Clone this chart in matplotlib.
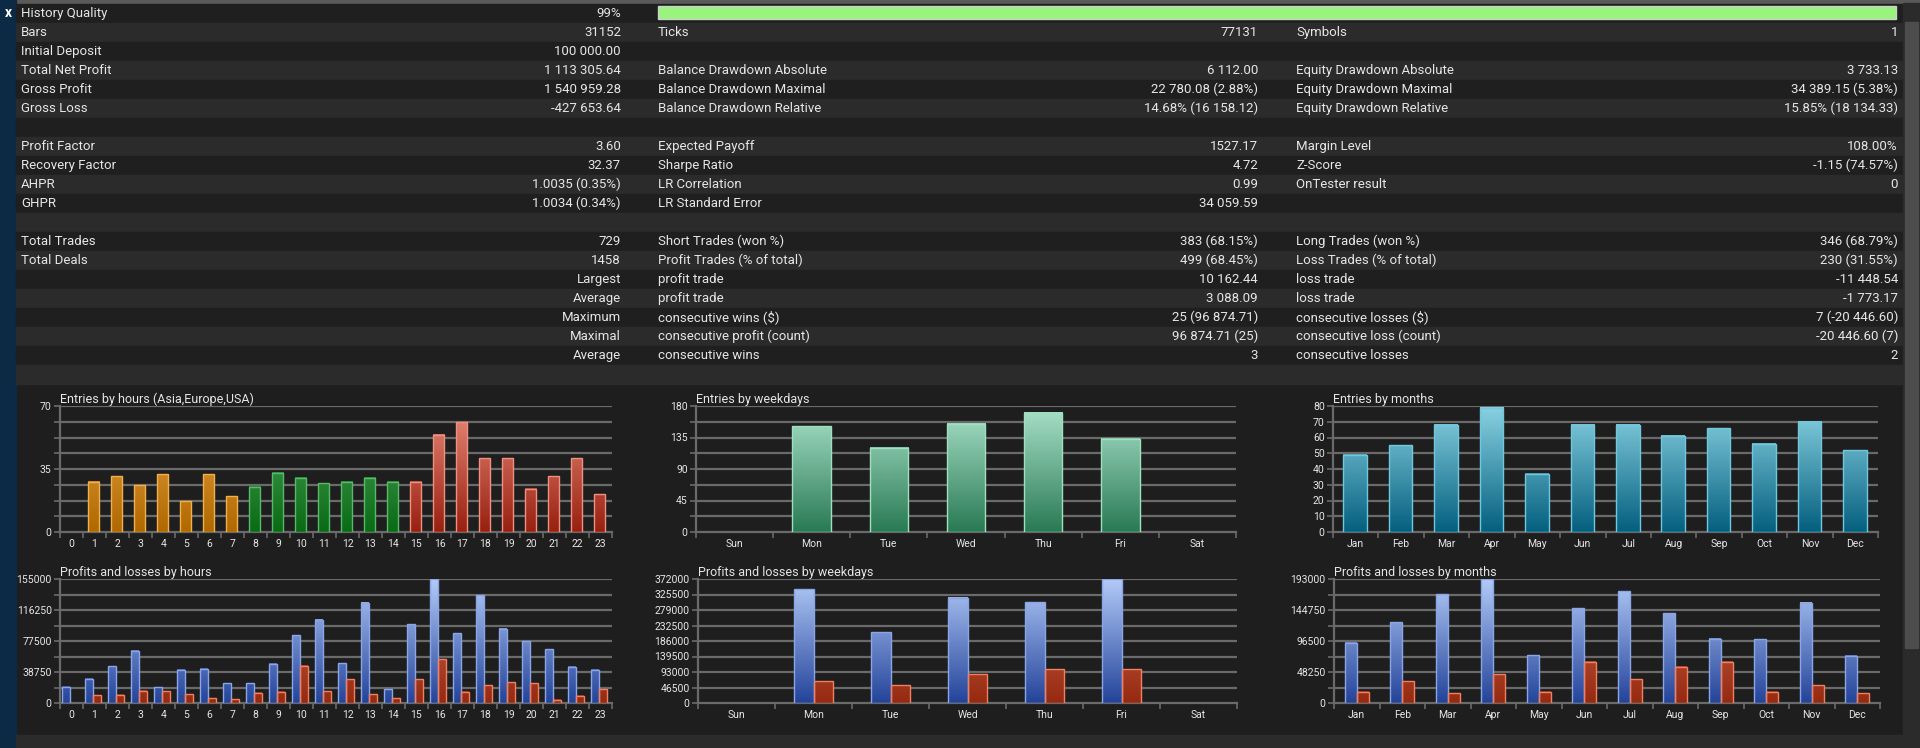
import numpy as np
import matplotlib
matplotlib.use("Agg")
import matplotlib.pyplot as plt
from matplotlib.patches import Rectangle
from matplotlib.colors import LinearSegmentedColormap

W, H = 1920, 748
plt.rcParams['font.family'] = ['Liberation Sans Narrow', 'Roboto', 'DejaVu Sans']

# ---------------- data ----------------
hours = [str(i) for i in range(24)]
hour_entries = [0, 28, 31, 26, 32, 17, 32, 20, 25, 33, 30, 27, 28, 30, 28, 28, 54, 61, 41, 41, 24, 31, 41, 21]
hour_profits = [20400, 30600, 46100, 65300, 19600, 41600, 42800, 24500, 24500, 49000, 84500, 104000,
                49800, 125300, 17500, 98700, 155000, 86900, 135000, 93000, 77100, 67300, 45300, 41600]
hour_losses = [0, 9400, 10200, 15500, 14700, 11000, 6100, 4900, 13100, 13900, 46500, 14700,
               29400, 11000, 5700, 29800, 54700, 13900, 22000, 25700, 24500, 4100, 9000, 17500]

weekdays = ["Sun", "Mon", "Tue", "Wed", "Thu", "Fri", "Sat"]
weekday_entries = [0, 151, 120, 155, 170, 133, 0]
weekday_profits = [0, 340700, 212400, 315200, 302500, 372000, 0]
weekday_losses = [0, 65600, 52900, 86100, 101800, 101800, 0]

months = ["Jan", "Feb", "Mar", "Apr", "May", "Jun", "Jul", "Aug", "Sep", "Oct", "Nov", "Dec"]
month_entries = [49, 55, 68, 79, 37, 68, 68, 61, 66, 56, 70, 52]
month_profits = [93500, 125500, 169200, 193000, 74700, 147300, 174300, 139700, 100100, 99100, 156000, 73200]
month_losses = [17300, 33500, 15200, 44700, 17300, 64000, 36600, 56400, 64500, 17800, 27400, 15200]

table_rows = [
    ["History Quality", "99%", None, None, None, None],
    ["Bars", "31152", "Ticks", "77131", "Symbols", "1"],
    ["Initial Deposit", "100 000.00", "", "", "", ""],
    ["Total Net Profit", "1 113 305.64", "Balance Drawdown Absolute", "6 112.00", "Equity Drawdown Absolute", "3 733.13"],
    ["Gross Profit", "1 540 959.28", "Balance Drawdown Maximal", "22 780.08 (2.88%)", "Equity Drawdown Maximal", "34 389.15 (5.38%)"],
    ["Gross Loss", "-427 653.64", "Balance Drawdown Relative", "14.68% (16 158.12)", "Equity Drawdown Relative", "15.85% (18 134.33)"],
    ["", "", "", "", "", ""],
    ["Profit Factor", "3.60", "Expected Payoff", "1527.17", "Margin Level", "108.00%"],
    ["Recovery Factor", "32.37", "Sharpe Ratio", "4.72", "Z-Score", "-1.15 (74.57%)"],
    ["AHPR", "1.0035 (0.35%)", "LR Correlation", "0.99", "OnTester result", "0"],
    ["GHPR", "1.0034 (0.34%)", "LR Standard Error", "34 059.59", "", ""],
    ["", "", "", "", "", ""],
    ["Total Trades", "729", "Short Trades (won %)", "383 (68.15%)", "Long Trades (won %)", "346 (68.79%)"],
    ["Total Deals", "1458", "Profit Trades (% of total)", "499 (68.45%)", "Loss Trades (% of total)", "230 (31.55%)"],
    ["", "Largest", "profit trade", "10 162.44", "loss trade", "-11 448.54"],
    ["", "Average", "profit trade", "3 088.09", "loss trade", "-1 773.17"],
    ["", "Maximum", "consecutive wins ($)", "25 (96 874.71)", "consecutive losses ($)", "7 (-20 446.60)"],
    ["", "Maximal", "consecutive profit (count)", "96 874.71 (25)", "consecutive loss (count)", "-20 446.60 (7)"],
    ["", "Average", "consecutive wins", "3", "consecutive losses", "2"],
    ["", "", "", "", "", ""],
]

BG = "#1e1e1e"
TXT = "#e6e6e6"
GRID = "#6a6a6a"

fig = plt.figure(figsize=(W / 100, H / 100), dpi=100, facecolor=BG)

# ---------------- table ----------------
tb = fig.add_axes([0, 0, 1, 1])
tb.set_xlim(0, W)
tb.set_ylim(H, 0)
tb.axis("off")
tb.add_patch(Rectangle((0, 0), W, H, color=BG, zorder=0))
tb.add_patch(Rectangle((0, 0), W, 3, color="#5a5a5a", zorder=1))
tb.add_patch(Rectangle((0, 0), 16, H, color="#0c2a45", zorder=1))
tb.text(8, 13, "x", color="white", fontsize=10, ha="center", va="center", fontweight="bold")
RH = 19.0
y0 = 3.5
cols_x = [21, 621, 658, 1258, 1296, 1898]
for r, row in enumerate(table_rows):
    top = y0 + r * RH
    tb.add_patch(Rectangle((16, top), 1887, RH, color="#1f1f1f" if r % 2 == 0 else "#2b2b2b", zorder=1))
    cy = top + RH / 2
    for c, s in enumerate(row):
        if s is None or s == "":
            continue
        ha = "left" if c in (0, 2, 4) else "right"
        tb.text(cols_x[c], cy, s, color=TXT, fontsize=9.5, ha=ha, va="center", zorder=3)
tb.add_patch(Rectangle((658, 6), 1238, 13, facecolor="#98f47c", edgecolor="#cfcfcf", lw=1, zorder=2))
# scrollbar
tb.add_patch(Rectangle((1903, 3), 17, H, color="#2b2b2b", zorder=2))
tb.add_patch(Rectangle((1905, 22), 13, 626, color="#4d4d4d", zorder=3))
tb.add_patch(Rectangle((16, 735), 1887, 13, color="#2b2b2b", zorder=1))


def cmap(lo, hi):
    return LinearSegmentedColormap.from_list("g", [lo, hi])


C_OR = cmap("#b06800", "#eaa848")
C_GR = cmap("#0a6a15", "#52aa62")
C_RD = cmap("#982010", "#e88a7a")
C_WG = cmap("#2a7a55", "#aae2ca")
C_TL = cmap("#04607f", "#8ad2e2")
C_BL = cmap("#24449a", "#b2caf8")
C_LS = cmap("#952a10", "#d66e56")


def gbar(ax, x, w, h, cm, ymax, edge):
    if h <= 0:
        return
    grad = np.linspace(0, h / ymax, 64).reshape(-1, 1)
    ax.imshow(grad, extent=(x, x + w, 0, h), origin="lower", cmap=cm, vmin=0, vmax=1,
              aspect="auto", zorder=3, interpolation="bilinear")
    ax.add_patch(Rectangle((x, 0), w, h, fill=False, ec=edge, lw=1, zorder=4))


def chart(l, t, r, b, title, cats, ymax, nstep, labstep, fmt=str):
    ax = fig.add_axes([l / W, 1 - b / H, (r - l) / W, (b - t) / H])
    ax.set_facecolor(BG)
    n = len(cats)
    for k in range(1, nstep + 1):
        ax.axhline(ymax * k / nstep, color=GRID, lw=1.6, zorder=1)
    yt = [ymax * k / nstep for k in range(nstep + 1)]
    ax.set_yticks(yt)
    ax.set_yticklabels([fmt(round(v)) if k % labstep == 0 else "" for k, v in enumerate(yt)])
    ax.set_xticks(range(n + 1))
    ax.set_xticklabels([])
    ax.set_xticks([i + 0.5 for i in range(n)], minor=True)
    ax.set_xticklabels(cats, minor=True)
    ax.tick_params(axis="x", which="major", length=4, color=GRID, width=1.2)
    ax.tick_params(axis="x", which="minor", length=0, pad=5, labelsize=7.5, labelcolor=TXT)
    ax.tick_params(axis="y", length=4, color=GRID, width=1.2, labelsize=7.5, labelcolor=TXT, pad=2)
    for s in ("top", "right"):
        ax.spines[s].set_visible(False)
    for s in ("left", "bottom"):
        ax.spines[s].set_color(GRID)
        ax.spines[s].set_linewidth(1.6)
    ax.set_xlim(0, n)
    ax.set_ylim(0, ymax)
    ax.text(0, 1.0, title, transform=ax.transAxes, color=TXT, fontsize=9, ha="left", va="bottom")
    return ax


# hours entries
ax = chart(60, 406, 612, 532, "Entries by hours (Asia,Europe,USA)", hours, 70, 8, 4)
for i, v in enumerate(hour_entries):
    cm, ec = (C_OR, "#f0b050") if i < 8 else ((C_GR, "#5ab86a") if i < 15 else (C_RD, "#f09080"))
    gbar(ax, i + 0.22, 0.48, v, cm, 70, ec)
ax.set_xlim(0, 24); ax.set_ylim(0, 70)

# weekday entries
ax = chart(696, 406, 1236, 532, "Entries by weekdays", weekdays, 180, 8, 2)
for i, v in enumerate(weekday_entries):
    gbar(ax, i + 0.25, 0.5, v, C_WG, 180, "#9ee0c0")
ax.set_xlim(0, 7); ax.set_ylim(0, 180)

# month entries
ax = chart(1333, 406, 1878, 532, "Entries by months", months, 80, 8, 1)
for i, v in enumerate(month_entries):
    gbar(ax, i + 0.23, 0.52, v, C_TL, 80, "#70c8e0")
ax.set_xlim(0, 12); ax.set_ylim(0, 80)

# hours P/L
ax = chart(60, 579, 612, 703, "Profits and losses by hours", hours, 155000, 8, 2)
for i in range(24):
    gbar(ax, i + 0.1, 0.33, hour_profits[i], C_BL, 155000, "#8aa6e8")
    gbar(ax, i + 0.45, 0.33, hour_losses[i], C_LS, 155000, "#f08060")
ax.set_xlim(0, 24); ax.set_ylim(0, 155000)

# weekday P/L
ax = chart(698, 579, 1237, 703, "Profits and losses by weekdays", weekdays, 372000, 8, 1)
for i in range(7):
    gbar(ax, i + 0.25, 0.25, weekday_profits[i], C_BL, 372000, "#8aa6e8")
    gbar(ax, i + 0.5, 0.25, weekday_losses[i], C_LS, 372000, "#f08060")
ax.set_xlim(0, 7); ax.set_ylim(0, 372000)

# month P/L
ax = chart(1334, 579, 1880, 703, "Profits and losses by months", months, 193000, 8, 2)
for i in range(12):
    gbar(ax, i + 0.24, 0.26, month_profits[i], C_BL, 193000, "#8aa6e8")
    gbar(ax, i + 0.5, 0.26, month_losses[i], C_LS, 193000, "#f08060")
ax.set_xlim(0, 12); ax.set_ylim(0, 193000)

fig.savefig("out.png", dpi=100, facecolor=BG)
